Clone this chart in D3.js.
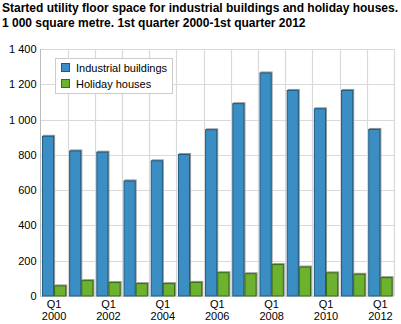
<!DOCTYPE html>
<html><head><meta charset="utf-8">
<script src="https://cdn.jsdelivr.net/npm/d3@7"></script>
<style>body{margin:0;background:#fff}svg{display:block;font-family:Arial,"Liberation Sans",Helvetica,sans-serif}</style>
</head><body><svg id="c" width="401" height="324"></svg>
<script>
const categories = ["Q1 2000","Q3 2000","Q1 2002","Q3 2002","Q1 2004","Q3 2004","Q1 2006","Q3 2006","Q1 2008","Q3 2008","Q1 2010","Q3 2010","Q1 2012"];
const tickLabels = [["Q1","2000"],null,["Q1","2002"],null,["Q1","2004"],null,["Q1","2006"],null,["Q1","2008"],null,["Q1","2010"],null,["Q1","2012"]];
const industrial = [908, 825, 818, 655, 769, 805, 945, 1093, 1267, 1168, 1064, 1168, 947];
const holiday = [60, 90, 79, 73, 73, 80, 135, 129, 181, 167, 134, 126, 107];
const seriesNames = ["Industrial buildings","Holiday houses"];
const yTicks = [0,200,400,600,800,1000,1200,1400];

const FF = "Arial,'Liberation Sans',Helvetica,sans-serif";
const svg = d3.select("#c");
const L = 40.5, R = 394, T = 49, B = 296;
const x = d3.scaleBand().domain(categories).range([L, R]).paddingInner(0).paddingOuter(0);
const y = d3.scaleLinear().domain([0,1400]).range([B, T]);
const fmt = v => d3.format(",")(v).replace(/,/g, " ");

// title
svg.append("text").attr("x",2).attr("y",12).attr("font-size",12).attr("font-weight","bold").attr("font-family",FF).attr("fill","#000")
  .text("Started utility floor space for industrial buildings and holiday houses.");
svg.append("text").attr("x",2).attr("y",26.5).attr("font-size",12).attr("font-weight","bold").attr("font-family",FF).attr("fill","#000")
  .text("1 000 square metre. 1st quarter 2000-1st quarter 2012");

// horizontal grid
svg.append("g").selectAll("line").data(yTicks).join("line")
  .attr("x1",L).attr("x2",R).attr("y1",d=>Math.round(y(d))+0.5).attr("y2",d=>Math.round(y(d))+0.5)
  .attr("stroke","#d9d9d9").attr("stroke-width",1.2);
// vertical grid
const bounds = categories.slice(1).map(c=>x(c)).concat([R]);
svg.append("g").selectAll("line").data(bounds).join("line")
  .attr("x1",d=> Math.round(d)+0.5).attr("x2",d=> Math.round(d)+0.5)
  .attr("y1",T).attr("y2",B).attr("stroke","#d9d9d9").attr("stroke-width",1.2);
// left axis line
svg.append("line").attr("x1",L).attr("x2",L).attr("y1",T).attr("y2",B+0.5).attr("stroke","#bbb");

// y axis labels
const yAxis = d3.axisLeft(y).tickValues(yTicks).tickSize(0).tickPadding(0).tickFormat(fmt);
const ga = svg.append("g").attr("transform",`translate(${L-4},0)`).call(yAxis);
ga.select(".domain").remove();
ga.attr("font-family",FF).attr("font-size",11);
ga.selectAll("text").attr("fill","#000");

// bars
const inner = d3.scaleBand().domain([0,1]).range([0, x.bandwidth()]).paddingInner(0).paddingOuter(0.12);
const series = [
  {vals: industrial, fill:"#3a8ec4", stroke:"#1f5a80"},
  {vals: holiday, fill:"#6db22e", stroke:"#3b6b17"}
];
series.forEach((s,si)=>{
  const g = svg.append("g");
  g.selectAll("rect.sh").data(s.vals).join("rect").attr("class","sh")
    .attr("x",(d,i)=>x(categories[i])+inner(si)+1).attr("y",d=>y(d)-1)
    .attr("width",inner.bandwidth()).attr("height",d=>B-y(d)+1)
    .attr("fill","#999");
  g.selectAll("rect.b").data(s.vals).join("rect").attr("class","b")
    .attr("x",(d,i)=>x(categories[i])+inner(si)+0.5).attr("y",d=>y(d)+0.5)
    .attr("width",inner.bandwidth()-1).attr("height",d=>B-y(d)-0.5)
    .attr("fill",s.fill).attr("stroke",s.stroke).attr("stroke-width",1);
});

// x labels
const xl = svg.append("g").attr("font-family",FF).attr("font-size",11);
tickLabels.forEach((t,i)=>{
  if(!t) return;
  const cx = x(categories[i]) + x.bandwidth()/2;
  const tx = xl.append("text").attr("x",cx).attr("text-anchor","middle").attr("fill","#000");
  tx.append("tspan").attr("x",cx).attr("y",308).text(t[0]);
  tx.append("tspan").attr("x",cx).attr("y",320).text(t[1]);
});

// legend
const lg = svg.append("g").attr("font-family",FF).attr("font-size",11);
lg.append("rect").attr("x",55.5).attr("y",58.5).attr("width",117).attr("height",35)
  .attr("fill","#fff").attr("stroke","#ccc");
seriesNames.forEach((n,i)=>{
  const yy = 63 + i*16;
  lg.append("rect").attr("x",61.5).attr("y",yy+0.5).attr("width",8).attr("height",8)
    .attr("fill",series[i].fill).attr("stroke",series[i].stroke);
  lg.append("text").attr("x",76).attr("y",yy+9).attr("fill","#000").text(n);
});
</script></body></html>
